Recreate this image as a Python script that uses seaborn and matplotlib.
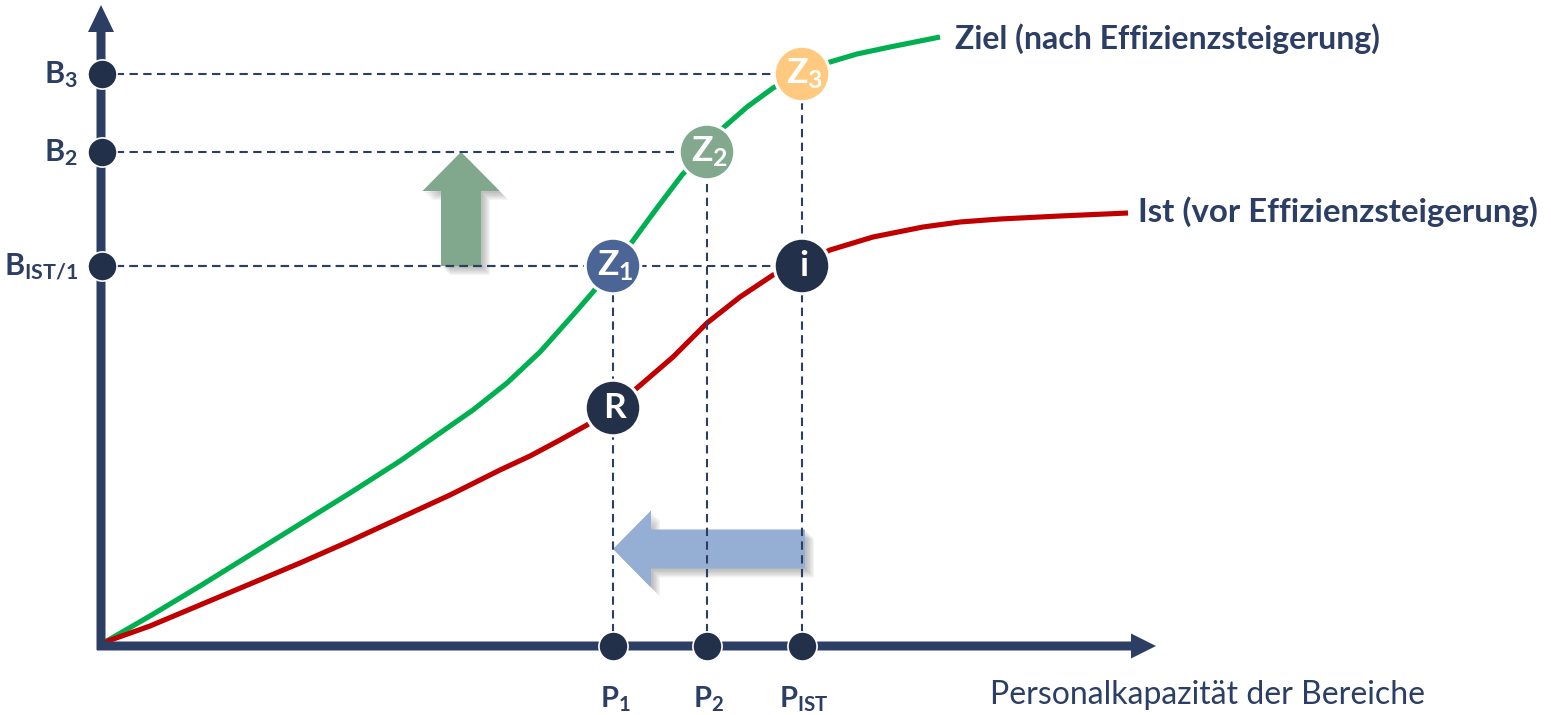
import matplotlib
matplotlib.use("Agg")
import matplotlib.pyplot as plt
import matplotlib.patches as mpatches
import matplotlib.patheffects as pe
import pandas as pd
import seaborn as sns

# ---------------- data (chart units, origin at the axis corner) ----------------
ziel_x = [3, 48, 98, 148, 198, 248, 298, 338, 371, 405, 438, 471, 491, 511, 530,
          555, 580, 601, 621, 645, 671, 700, 728, 755, 788, 838]
ziel_y = [4, 30, 60, 91, 122, 153, 185, 213, 236, 263, 294, 331, 354, 380, 404,
          438, 471, 493, 518, 539, 558, 573, 584, 592, 599, 609]

ist_x = [3, 48, 98, 148, 198, 248, 298, 348, 398, 428, 458, 485, 510, 535, 571,
         605, 638, 671, 700, 728, 771, 821, 858, 898, 958, 1026]
ist_y = [4, 20, 41, 62, 83, 105, 128, 151, 176, 190, 206, 221, 238, 258, 289,
         323, 349, 371, 383, 396, 409, 419, 424, 427, 430, 433]

p_labels = [r"$\mathbf{P_1}$", r"$\mathbf{P_2}$", r"$\mathbf{P_{IST}}$"]
p_values = [511, 605, 700]
b_labels = [r"$\mathbf{B_{IST/1}}$", r"$\mathbf{B_2}$", r"$\mathbf{B_3}$"]
b_values = [380, 494, 572]
r_value = 238

point_labels = [r"$\mathbf{Z_1}$", r"$\mathbf{Z_2}$", r"$\mathbf{Z_3}$", r"$\mathbf{i}$", r"$\mathbf{R}$"]
point_x = [p_values[0], p_values[1], p_values[2], p_values[2], p_values[0]]
point_y = [b_values[0], b_values[1], b_values[2], b_values[0], r_value]
point_colors = ["#4A6596", "#82A88D", "#FFCA7F", "#22304A", "#22304A"]

curve_names = ["Ziel (nach Effizienzsteigerung)", "Ist (vor Effizienzsteigerung)"]
x_axis_title = "Personalkapazität der Bereiche"

# ---------------- styling ----------------
NAVY = "#2C3E63"
DOT = "#22304A"
GREEN = "#00B050"
RED = "#C00000"

sns.set_theme(style="white")
plt.rcParams["font.family"] = ["Lato", "DejaVu Sans"]
plt.rcParams["mathtext.fontset"] = "custom"
plt.rcParams["mathtext.rm"] = "Lato"
plt.rcParams["mathtext.bf"] = "Lato:bold"
plt.rcParams["mathtext.it"] = "Lato:italic"

fig = plt.figure(figsize=(15.51, 7.15), dpi=100)
ax = fig.add_axes([0, 0, 1, 1])
ax.set_xlim(-102, 1449)
ax.set_ylim(-69, 646)
ax.axis("off")

# axes with arrow heads
ax.add_patch(mpatches.FancyArrow(-1, -4, 0, 645, width=9, head_width=26, head_length=27,
                                 length_includes_head=True, color=NAVY, zorder=4, lw=0))
ax.add_patch(mpatches.FancyArrow(-5, 0, 1059, 0, width=9, head_width=25, head_length=25,
                                 length_includes_head=True, color=NAVY, zorder=4, lw=0))

# dashed guide lines
dash = dict(color=NAVY, lw=1.5, ls=(0, (4, 2.6)), zorder=3)
for px, by in zip(point_x[:3], point_y[:3]):
    ax.plot([0, px], [by, by], **dash)
    ax.plot([px, px], [0, by], **dash)
ax.plot([0, p_values[2]], [b_values[0], b_values[0]], **dash)

# curves
df = pd.concat([
    pd.DataFrame({"x": ziel_x, "y": ziel_y, "k": curve_names[0]}),
    pd.DataFrame({"x": ist_x, "y": ist_y, "k": curve_names[1]}),
])
sns.lineplot(data=df, x="x", y="y", hue="k", palette=[GREEN, RED], sort=False,
             linewidth=3.7, legend=False, ax=ax, zorder=2)
for line in ax.get_lines()[-2:]:
    line.set_solid_joinstyle("round")
    line.set_solid_capstyle("butt")

# arrows (soft shadow)
shadow = [pe.SimplePatchShadow(offset=(k, -k), shadow_rgbFace="#555555", alpha=0.07)
          for k in (1.5, 2.5, 3.5, 4.5, 5.5, 6.5)] + [pe.Normal()]
up = mpatches.FancyArrow(359, b_values[0], 0, b_values[1] - b_values[0], width=40,
                         head_width=77, head_length=39, length_includes_head=True,
                         color="#81A78D", lw=0, zorder=1)
up.set_path_effects(shadow)
ax.add_patch(up)
left = mpatches.FancyArrow(p_values[2] + 3, 97, p_values[0] - p_values[2] - 3, 0, width=39,
                           head_width=77, head_length=38, length_includes_head=True,
                           color="#95AED3", lw=0, zorder=1)
left.set_path_effects(shadow)
ax.add_patch(left)

# axis dots
sns.scatterplot(x=[0] * len(b_values), y=b_values, s=440, color=DOT, edgecolor="white",
                linewidth=1.2, ax=ax, zorder=6, legend=False)
sns.scatterplot(x=p_values, y=[0] * len(p_values), s=440, color=DOT, edgecolor="white",
                linewidth=1.2, ax=ax, zorder=6, legend=False)

# big labelled circles
sns.scatterplot(x=point_x, y=point_y, hue=list(range(len(point_x))), palette=point_colors,
                s=1600, edgecolor="white", linewidth=2.2, ax=ax, zorder=7, legend=False)
for lab, px, py in zip(point_labels, point_x, point_y):
    ax.text(px + 2, py - 10, lab, color="white", fontsize=25.5, ha="center", va="baseline", zorder=8)

# axis labels
for lab, by in zip(b_labels, b_values):
    ax.text(-24, by - 9, lab, color=NAVY, fontsize=22, ha="right", va="baseline")
for lab, px in zip(p_labels, p_values):
    ax.text(px + 2, -61, lab, color=NAVY, fontsize=21, ha="center", va="baseline")

# curve labels and axis title
ax.text(853, 597, curve_names[0], color=NAVY, fontsize=23, fontweight="bold", va="baseline")
ax.text(1036, 424, curve_names[1], color=NAVY, fontsize=23.8, fontweight="bold", va="baseline")
ax.text(888, -58, x_axis_title, color=NAVY, fontsize=23, va="baseline")

fig.savefig("out.png", dpi=100)
